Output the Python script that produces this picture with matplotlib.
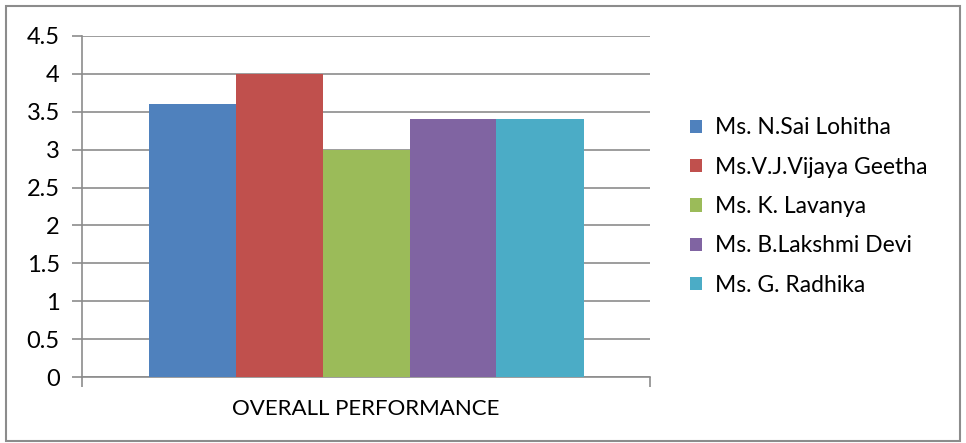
import numpy as np
import matplotlib.pyplot as plt
from matplotlib.patches import Rectangle

plt.rcParams['font.family'] = ['Lato', 'DejaVu Sans']

# data
names = ['Ms. N.Sai Lohitha', 'Ms.V.J.Vijaya Geetha', 'Ms. K. Lavanya',
         'Ms. B.Lakshmi Devi', 'Ms. G. Radhika']
scores = [3.6, 4.0, 3.0, 3.4, 3.4]
category = 'OVERALL PERFORMANCE'
colors = ['#4F81BD', '#C0504D', '#9BBB59', '#8064A2', '#4BACC6']
yticks = [0, 0.5, 1, 1.5, 2, 2.5, 3, 3.5, 4, 4.5]

fig = plt.figure(figsize=(9.66, 4.43), dpi=100)
ax = fig.add_axes([82/966, 1 - 377/443, 568/966, 341/443])

# bars in one category group, centred at 0.5
group_w = 435 / 568
bw = group_w / len(scores)
start = 0.5 - group_w / 2
for i, (n, v, c) in enumerate(zip(names, scores, colors)):
    ax.bar(start + bw * (i + 0.5), v, width=bw, color=c, label=n, zorder=3)

ax.set_xlim(0, 1)
ax.set_ylim(0, 4.5)
ax.set_yticks(yticks)
ax.set_yticklabels(['%g' % t for t in yticks], fontsize=17)
ax.yaxis.grid(True, color='#8c8c8c', linewidth=1.2, zorder=0)

ax.set_xticks([0, 1])
ax.set_xticklabels(['', ''])
ax.set_xticks([0.5], minor=True)
ax.set_xticklabels([category], minor=True, fontsize=16)
ax.tick_params(axis='x', which='minor', length=0, pad=16)
ax.tick_params(axis='x', which='major', length=7, color='#8c8c8c', width=1.2)
ax.tick_params(axis='y', length=7, color='#8c8c8c', width=1.2, pad=9)

for s in ['top', 'right']:
    ax.spines[s].set_visible(False)
for s in ['left', 'bottom']:
    ax.spines[s].set_color('#8c8c8c')
    ax.spines[s].set_linewidth(1.2)

leg = ax.legend(loc='center left', bbox_to_anchor=((690 - 82)/568, 0.5),
                bbox_transform=ax.transAxes, frameon=False, fontsize=16.5,
                handlelength=0.52, handleheight=0.52, handletextpad=0.55,
                labelspacing=0.8, borderaxespad=0, borderpad=0)

# outer chart border
fig.patches.append(Rectangle((6/966, 2/443), 954/966, 435/443,
                             transform=fig.transFigure, fill=False,
                             edgecolor='#8c8c8c', linewidth=1.5))

fig.savefig('out.png', dpi=100)
